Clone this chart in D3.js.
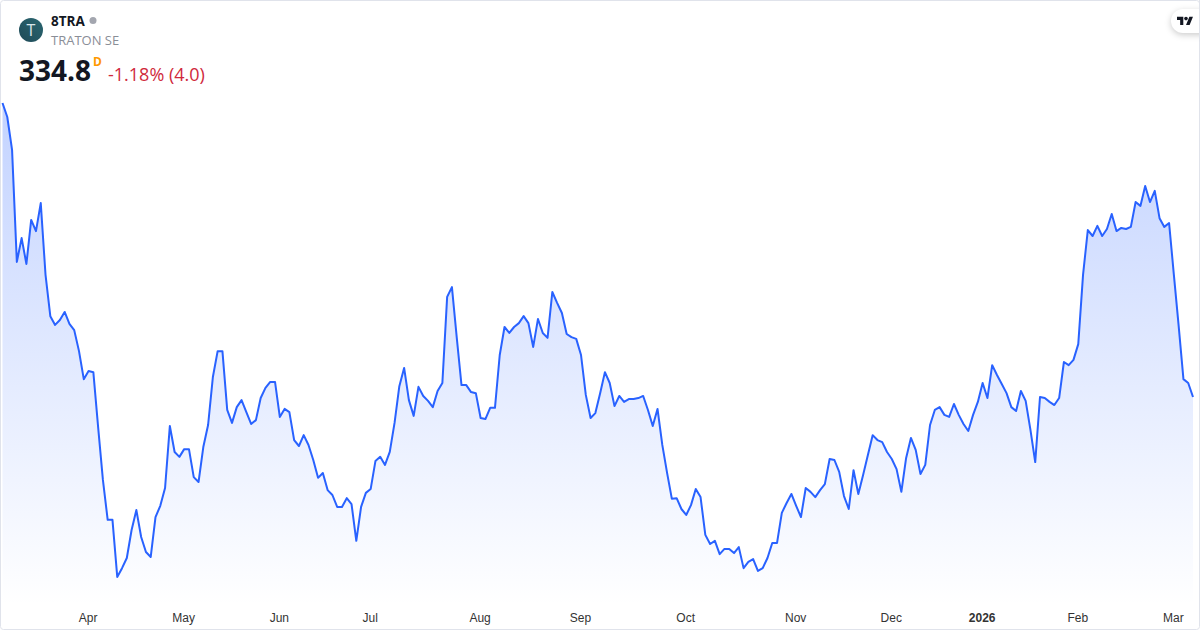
<!DOCTYPE html>
<html>
<head>
<meta charset="utf-8">
<title>8TRA</title>
<script src="https://cdn.jsdelivr.net/npm/d3@7"></script>
<style>
  html, body { margin: 0; padding: 0; background: #ffffff; }
  svg { display: block; font-family: "Open Sans", "Noto Sans", sans-serif; }
  .tick text { font-size: 12px; fill: #333333; }
</style>
</head>
<body>
<div id="chart"></div>
<script>
////////////////////////////////////////////////////////////////////////
// Data
////////////////////////////////////////////////////////////////////////
var closes = [
  418.8, 414.8, 405.4, 373.4, 380.2, 372.8, 385.4, 382.2, 390.2, 369.7,
  357.9, 355.4, 356.8, 359.1, 355.7, 353.9, 347.9, 339.9, 342.2, 341.9,
  326.2, 311.1, 299.7, 299.7, 283.4, 285.9, 288.8, 296.8, 302.5, 294.8,
  290.5, 289.1, 300.5, 303.7, 308.8, 326.5, 319.1, 317.7, 319.9, 319.9,
  311.9, 310.5, 320.5, 326.8, 340.5, 347.9, 347.9, 331.1, 327.4, 331.9,
  333.9, 330.5, 327.1, 328.2, 334.5, 337.4, 339.1, 339.1, 329.1, 331.4,
  330.5, 322.5, 320.8, 323.9, 321.1, 316.8, 311.7, 313.1, 308.2, 306.8,
  303.4, 303.4, 305.9, 304.2, 293.7, 303.4, 307.4, 308.5, 316.5, 317.7,
  315.4, 319.1, 327.4, 337.9, 343.1, 333.9, 329.4, 337.7, 335.1, 333.7,
  331.9, 336.5, 338.8, 363.4, 366.2, 351.9, 338.2, 338.2, 336.2, 335.9,
  328.8, 328.5, 331.7, 331.7, 346.8, 354.8, 353.1, 354.8, 355.9, 357.9,
  355.9, 349.1, 357.1, 353.1, 351.7, 364.8, 361.7, 358.8, 352.8, 351.9,
  351.4, 346.8, 335.4, 328.8, 330.2, 335.9, 341.9, 338.8, 332.2, 335.1,
  333.4, 334.2, 334.2, 334.5, 335.1, 331.1, 326.5, 331.4, 321.1, 313.1,
  305.7, 305.9, 302.8, 301.1, 303.9, 308.5, 306.2, 295.4, 292.8, 293.7,
  289.9, 291.4, 291.4, 290.2, 291.9, 285.9, 287.7, 288.5, 285.1, 285.9,
  288.8, 293.1, 293.1, 301.7, 304.5, 307.1, 303.7, 300.5, 308.8, 307.7,
  306.2, 308.2, 309.9, 317.1, 316.8, 313.4, 306.5, 302.8, 313.9, 307.1,
  312.5, 318.2, 323.9, 322.5, 321.9, 319.1, 317.1, 314.2, 307.7, 317.4,
  323.1, 319.7, 312.8, 315.4, 326.8, 331.1, 331.9, 329.7, 329.1, 332.8,
  329.7, 327.1, 325.1, 329.7, 333.4, 338.8, 334.5, 343.9, 341.1, 338.5,
  335.9, 331.9, 330.8, 336.5, 333.7, 325.4, 316.2, 334.8, 334.5, 333.4,
  332.5, 334.5, 344.8, 343.9, 345.4, 349.9, 369.7, 382.5, 380.8, 383.7,
  380.8, 382.8, 387.1, 382.2, 383.1, 382.8, 383.4, 390.5, 389.4, 395.1,
  390.5, 393.7, 385.9, 383.4, 384.5, 369.7, 355.1, 339.9, 338.8, 334.8
];

var tickIndexes = [18, 38, 58, 77, 100, 121, 143, 166, 186, 205, 225, 245];
var tickLabels = ["Apr", "May", "Jun", "Jul", "Aug", "Sep", "Oct", "Nov", "Dec", "2026", "Feb", "Mar"];

var symbolName = "8TRA";
var companyName = "TRATON SE";
var lastPrice = "334.8";
var changeText = "-1.18% (4.0)";

////////////////////////////////////////////////////////////////////////
// Will draw the whole chart
////////////////////////////////////////////////////////////////////////
function init()
  {
  var width = 1200;
  var height = 630;
  var plotBottom = 606;

  var svg = d3.select("#chart")
    .append("svg")
    .attr("width", width)
    .attr("height", height);

  var x = d3.scaleLinear().domain([0, closes.length - 1]).range([2.5, 1193]);
  var y = d3.scaleLinear().domain([300, 400]).range([518.8, 168.8]);

  //Card outline
  svg.append("rect")
    .attr("x", 0.5).attr("y", 0.5)
    .attr("width", width - 1).attr("height", height - 1)
    .attr("rx", 3)
    .attr("fill", "#ffffff")
    .attr("stroke", "#e0e3eb");

  //Fade under the line
  var gradient = svg.append("defs").append("linearGradient")
    .attr("id", "areaFade")
    .attr("gradientUnits", "userSpaceOnUse")
    .attr("x1", 0).attr("x2", 0)
    .attr("y1", y(d3.max(closes))).attr("y2", plotBottom);
  gradient.append("stop").attr("offset", 0).attr("stop-color", "#2962ff").attr("stop-opacity", 0.28);
  gradient.append("stop").attr("offset", 1).attr("stop-color", "#2962ff").attr("stop-opacity", 0);

  var area = d3.area()
    .x(function(d, i) { return x(i); })
    .y0(plotBottom)
    .y1(function(d) { return y(d); });

  var line = d3.line()
    .x(function(d, i) { return x(i); })
    .y(function(d) { return y(d); });

  svg.append("path").datum(closes)
    .attr("d", area)
    .attr("fill", "url(#areaFade)");

  svg.append("path").datum(closes)
    .attr("d", line)
    .attr("fill", "none")
    .attr("stroke", "#2962ff")
    .attr("stroke-width", 2)
    .attr("stroke-linejoin", "round");

  //Time axis, labels only
  var axis = d3.axisBottom(x)
    .tickValues(tickIndexes)
    .tickSize(0)
    .tickPadding(0)
    .tickFormat(function(d, i) { return tickLabels[i]; });

  var axisGroup = svg.append("g")
    .attr("transform", "translate(-1,613)")
    .call(axis);
  axisGroup.select(".domain").remove();
  axisGroup.selectAll("text")
    .attr("font-weight", function(d, i) { return tickLabels[i] === "2026" ? 700 : 400; });

  drawHeader(svg);
  drawBadge(svg, width);
  }

////////////////////////////////////////////////////////////////////////
// Symbol logo, names and last price at the top left
////////////////////////////////////////////////////////////////////////
function drawHeader(svg)
  {
  var logoFade = svg.select("defs").append("linearGradient")
    .attr("id", "logoFade")
    .attr("x1", 0).attr("y1", 1).attr("x2", 1).attr("y2", 0);
  logoFade.append("stop").attr("offset", 0).attr("stop-color", "#1f4a58");
  logoFade.append("stop").attr("offset", 1).attr("stop-color", "#2a6670");

  svg.append("circle")
    .attr("cx", 31).attr("cy", 30).attr("r", 12)
    .attr("fill", "url(#logoFade)");

  svg.append("text")
    .attr("x", 31).attr("y", 35.5)
    .attr("text-anchor", "middle")
    .attr("font-size", 16)
    .attr("fill", "#d8e6ea")
    .text("T");

  svg.append("text")
    .attr("x", 51).attr("y", 26)
    .attr("font-size", 13.5)
    .attr("font-weight", 700)
    .attr("fill", "#131722")
    .text(symbolName);

  svg.append("circle")
    .attr("cx", 93).attr("cy", 20.5).attr("r", 3.5)
    .attr("fill", "#a3a6af");

  svg.append("text")
    .attr("x", 51).attr("y", 45)
    .attr("font-size", 13)
    .attr("fill", "#8a8e97")
    .text(companyName);

  svg.append("text")
    .attr("x", 19).attr("y", 81)
    .attr("font-size", 28)
    .attr("font-weight", 700)
    .attr("fill", "#131722")
    .text(lastPrice);

  svg.append("text")
    .attr("x", 93).attr("y", 65.5)
    .attr("font-size", 12)
    .attr("font-weight", 700)
    .attr("fill", "#ff9800")
    .text("D");

  svg.append("text")
    .attr("x", 108).attr("y", 81)
    .attr("font-size", 18)
    .attr("fill", "#d0293c")
    .text(changeText);
  }

////////////////////////////////////////////////////////////////////////
// White pill with the vendor mark at the top right
////////////////////////////////////////////////////////////////////////
function drawBadge(svg, width)
  {
  svg.append("rect")
    .attr("x", 1171).attr("y", 9)
    .attr("width", 50).attr("height", 24)
    .attr("rx", 12)
    .attr("fill", "#ffffff")
    .style("filter", "drop-shadow(0 2px 3px rgba(0,0,0,0.2))");

  var mark = svg.append("g")
    .attr("transform", "translate(1177,15) scale(0.45)")
    .attr("fill", "#131722");
  mark.append("path").attr("d", "M14 22H7V11H0V4h14v18zM28 22h-8l7.5-18h8L28 22z");
  mark.append("circle").attr("cx", 20).attr("cy", 8).attr("r", 4);

  //Border goes back on top of the pill edge
  svg.append("line")
    .attr("x1", width - 0.5).attr("x2", width - 0.5)
    .attr("y1", 0).attr("y2", 40)
    .attr("stroke", "#e0e3eb");
  }

init();
</script>
</body>
</html>
